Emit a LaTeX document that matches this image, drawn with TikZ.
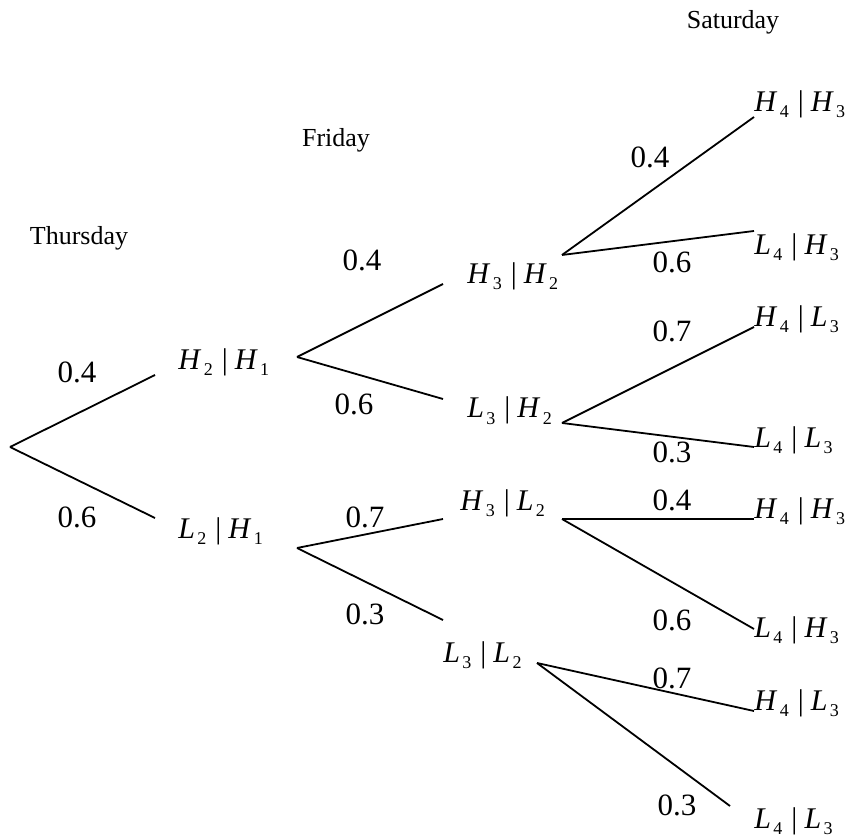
\documentclass[tikz,border=0pt]{standalone}
\usepackage{fontspec}
\setmainfont{Liberation Serif}
\usetikzlibrary{positioning}
\tikzset{ev/.style={font=\fontsize{15}{17}\selectfont,inner sep=0pt,anchor=base west},
  pr/.style={font=\fontsize{15.5}{18}\selectfont,inner sep=0pt},
  day/.style={font=\fontsize{13}{15}\selectfont,inner sep=0pt},
  br/.style={line width=0.9pt}}
\newcommand{\sbs}[1]{\kern1.2pt\lower3pt\hbox{\fontsize{9}{10}\selectfont #1}}
\newcommand{\cnd}[4]{\textit{#1}\sbs{#2}\hspace{4.5pt}|\hspace{3.5pt}\textit{#3}\sbs{#4}}

\begin{document}
\begin{tikzpicture}[x=0.5pt,y=-0.5pt]
\useasboundingbox (0,0) rectangle (851,839);

\node[day] (thu) at (79,238) {Thursday};
\node[day] (fri) at (336,140) {Friday};
\node[day] (sat) at (733,22) {Saturday};

% Thursday
\coordinate (root) at (10,447);
\coordinate (a1) at (155,375);
\coordinate (a2) at (155,518);
\draw[br] (root) -- (a1);
\draw[br] (root) -- (a2);
\node[pr] (pa1) at (77,372) {0.4};
\node[pr] (pa2) at (77,517) {0.6};
\node[ev] (h2h1) at (178,370) {\cnd{H}{2}{H}{1}};
\node[ev] (l2h1) at (178,538) {\cnd{L}{2}{H}{1}};

% Friday
\coordinate (j1) at (297,357);
\coordinate (b1) at (443,284);
\coordinate (b2) at (443,399);
\coordinate (j2) at (297,548);
\coordinate (b3) at (443,519);
\coordinate (b4) at (443,620);
\draw[br] (j1) -- (b1);
\draw[br] (j1) -- (b2);
\draw[br] (j2) -- (b3);
\draw[br] (j2) -- (b4);
\node[pr] (pb1) at (362,260) {0.4};
\node[pr] (pb2) at (354,404) {0.6};
\node[pr] (pb3) at (365,517) {0.7};
\node[pr] (pb4) at (365,614) {0.3};
\node[ev] (h3h2) at (467,284) {\cnd{H}{3}{H}{2}};
\node[ev] (l3h2) at (467,418) {\cnd{L}{3}{H}{2}};
\node[ev] (h3l2) at (460,510) {\cnd{H}{3}{L}{2}};
\node[ev] (l3l2) at (443,662) {\cnd{L}{3}{L}{2}};

% Saturday
\coordinate (k1) at (562,255);
\coordinate (k2) at (562,423);
\coordinate (k3) at (562,519);
\coordinate (k4) at (537,663);
\coordinate (c1) at (754,117);
\coordinate (c2) at (754,231);
\coordinate (c3) at (754,327);
\coordinate (c4) at (754,447);
\coordinate (c5) at (754,519);
\coordinate (c6) at (754,629);
\coordinate (c7) at (754,711);
\coordinate (c8) at (730,806);
\draw[br] (k1) -- (c1);
\draw[br] (k1) -- (c2);
\draw[br] (k2) -- (c3);
\draw[br] (k2) -- (c4);
\draw[br] (k3) -- (c5);
\draw[br] (k3) -- (c6);
\draw[br] (k4) -- (c7);
\draw[br] (k4) -- (c8);
\node[pr] (pc1) at (650,157) {0.4};
\node[pr] (pc2) at (672,262) {0.6};
\node[pr] (pc3) at (672,331) {0.7};
\node[pr] (pc4) at (672,452) {0.3};
\node[pr] (pc5) at (672,500) {0.4};
\node[pr] (pc6) at (672,620) {0.6};
\node[pr] (pc7) at (672,678) {0.7};
\node[pr] (pc8) at (677,805) {0.3};
\node[ev] (h4h3a) at (754,112) {\cnd{H}{4}{H}{3}};
\node[ev] (l4h3a) at (754,255) {\cnd{L}{4}{H}{3}};
\node[ev] (h4l3a) at (754,327) {\cnd{H}{4}{L}{3}};
\node[ev] (l4l3a) at (754,447) {\cnd{L}{4}{L}{3}};
\node[ev] (h4h3b) at (754,518) {\cnd{H}{4}{H}{3}};
\node[ev] (l4h3b) at (754,637) {\cnd{L}{4}{H}{3}};
\node[ev] (h4l3b) at (754,710) {\cnd{H}{4}{L}{3}};
\node[ev] (l4l3b) at (754,828) {\cnd{L}{4}{L}{3}};
\end{tikzpicture}
\end{document}
